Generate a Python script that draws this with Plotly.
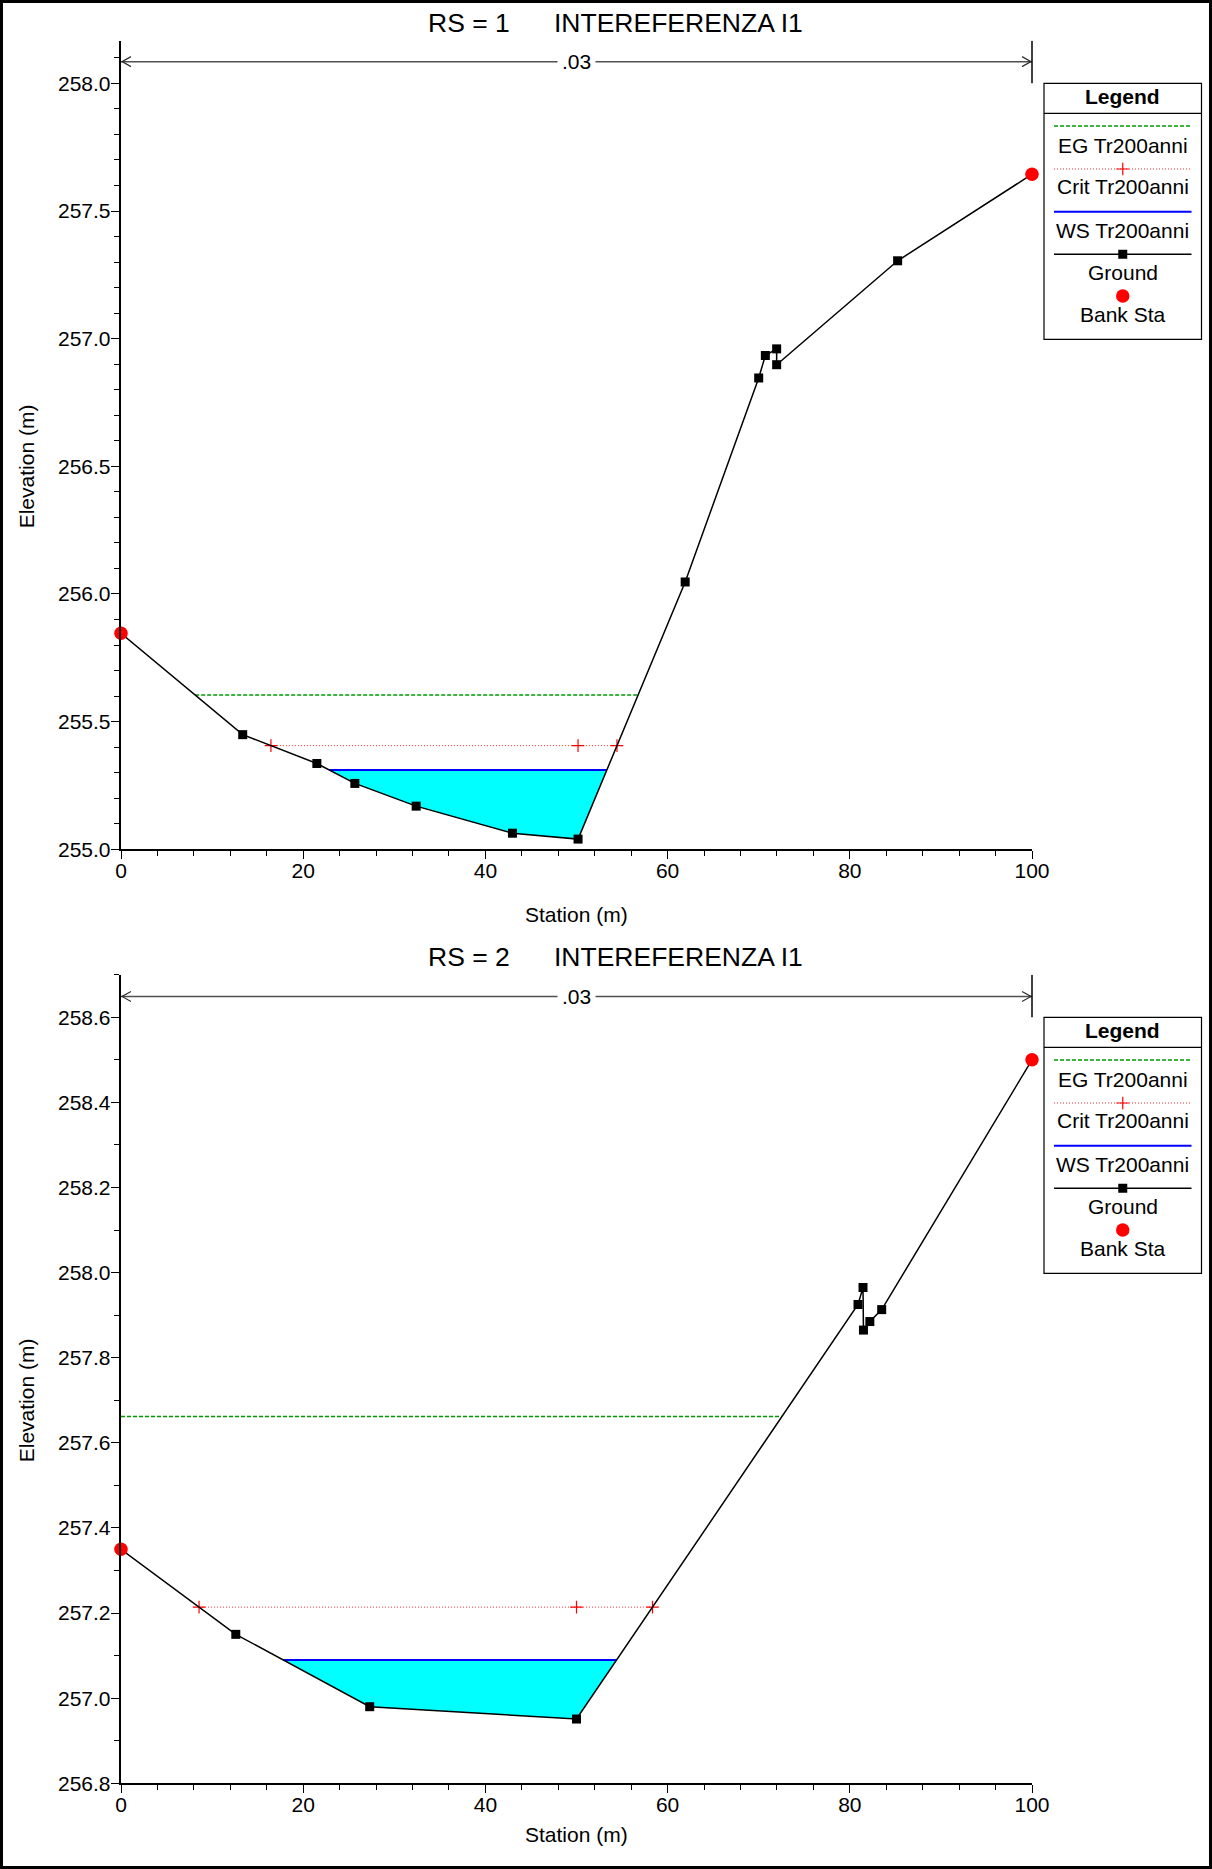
import numpy as np
import plotly.graph_objects as go

W, H = 1212, 1869
FONT = "Liberation Sans, Arial, sans-serif"

# ---------------- data ----------------
rs1_station = [0, 13.36, 21.5, 25.67, 32.4, 42.97, 50.17, 61.93, 70.0, 70.73, 71.97, 71.97, 85.25, 100]
rs1_elev = [255.846, 255.449, 255.336, 255.258, 255.169, 255.063, 255.040, 256.047,
            256.846, 256.934, 256.960, 256.898, 257.305, 257.644]
rs1_bank = [0, 100]
rs1_ws, rs1_eg, rs1_crit = 255.311, 255.604, 255.406

rs2_station = [0, 12.6, 27.3, 50.0, 80.9, 81.45, 81.5, 82.2, 83.5, 100]
rs2_elev = [257.35, 257.150, 256.980, 256.951, 257.925, 257.965, 257.865, 257.885, 257.913, 258.50]
rs2_bank = [0, 100]
rs2_ws, rs2_eg, rs2_crit = 257.090, 257.662, 257.214

mann_n = ".03"
titles = [("RS = 1", "INTEREFERENZA I1"), ("RS = 2", "INTEREFERENZA I1")]
legend_names = ["EG Tr200anni", "Crit Tr200anni", "WS Tr200anni", "Ground", "Bank Sta"]

yranges = [[255.0, 258.167], [256.8, 258.70]]
ydticks = [0.5, 0.2]
ytick_span = [(255.0, 258.0), (256.8, 258.6)]
arrow_elev = [258.085, 258.649]
bar_bottom = [258.0, 258.6]

# ---------------- helpers ----------------
def crossings(st, el, level):
    st = list(st); el = list(el)
    imin = int(np.argmin(el))
    left, li = st[0], 0
    for i in range(imin, 0, -1):
        if el[i - 1] >= level:
            f = (level - el[i]) / (el[i - 1] - el[i])
            left = st[i] + f * (st[i - 1] - st[i])
            li = i
            break
    right, ri = st[-1], len(st) - 1
    for i in range(imin, len(st) - 1):
        if el[i + 1] >= level:
            f = (level - el[i]) / (el[i + 1] - el[i])
            right = st[i] + f * (st[i + 1] - st[i])
            ri = i
            break
    return left, right, li, ri, st[imin]

fig = go.Figure()
shapes = []
annotations = []

px_x = lambda p: p / W
px_y = lambda p: 1 - p / H

charts = [(rs1_station, rs1_elev, rs1_bank, rs1_ws, rs1_eg, rs1_crit),
          (rs2_station, rs2_elev, rs2_bank, rs2_ws, rs2_eg, rs2_crit)]

X0, X1 = 121, 1032
for k, (st, el, bank, ws, eg, crit) in enumerate(charts):
    off = 934 * k
    xa = "x" if k == 0 else "x2"
    ya = "y" if k == 0 else "y2"
    # water fill
    l, r, li, ri, _ = crossings(st, el, ws)
    fx = [l] + st[li:ri + 1] + [r]
    fy = [ws] + el[li:ri + 1] + [ws]
    fig.add_trace(go.Scatter(x=fx, y=fy, fill="toself", fillcolor="#00ffff", mode="lines",
                             line=dict(width=0), xaxis=xa, yaxis=ya, hoverinfo="skip"))
    # EG
    l, r, _, _, _ = crossings(st, el, eg)
    fig.add_trace(go.Scatter(x=[l, r], y=[eg, eg], mode="lines",
                             line=dict(color="#009900", width=1.5, dash="4px,2px"), xaxis=xa, yaxis=ya))
    # Crit
    l, r, _, _, smin = crossings(st, el, crit)
    fig.add_trace(go.Scatter(x=[l, smin, r], y=[crit] * 3, mode="lines+markers",
                             line=dict(color="#ff3030", width=1, dash="1px,2px"),
                             marker=dict(symbol="cross-thin", size=9, line=dict(color="red", width=1.2)),
                             xaxis=xa, yaxis=ya))
    # WS
    l, r, _, _, _ = crossings(st, el, ws)
    fig.add_trace(go.Scatter(x=[l, r], y=[ws, ws], mode="lines",
                             line=dict(color="#0000ff", width=2), xaxis=xa, yaxis=ya))
    # Ground
    fig.add_trace(go.Scatter(x=st, y=el, mode="lines+markers", cliponaxis=False,
                             line=dict(color="black", width=1.5),
                             marker=dict(symbol="square", size=9, color="black"), xaxis=xa, yaxis=ya))
    # Bank stations
    bank_el = [float(np.interp(b, st, el)) if b not in st else el[st.index(b)] for b in bank]
    fig.add_trace(go.Scatter(x=bank, y=bank_el, mode="markers", cliponaxis=False,
                             marker=dict(symbol="circle", size=13.5, color="red"), xaxis=xa, yaxis=ya))

    # axes
    ydom = [px_y(849.3 + off), px_y(40.7 + off)]
    axx = dict(domain=[px_x(X0), px_x(X1)], range=[0, 100], anchor=ya, tickmode="linear", tick0=0, dtick=20,
               ticks="outside", ticklen=7.5, tickwidth=1.2, tickcolor="black", showline=True,
               linecolor="black", linewidth=1.5, showgrid=False, zeroline=False, automargin=False,
               ticklabelstandoff=-6,
               tickfont=dict(size=21, color="black", family=FONT),
               minor=dict(dtick=4, tick0=0, ticks="outside", ticklen=5, tickwidth=1, tickcolor="black", showgrid=False))
    axy = dict(domain=ydom, range=yranges[k], anchor=xa, tickmode="linear", tick0=yranges[k][0],
               dtick=ydticks[k], tickformat=".1f", automargin=False, ticklabelstandoff=-4,
               ticks="outside", ticklen=8.5, tickwidth=1.2, tickcolor="black", showline=True,
               linecolor="black", linewidth=1.5, showgrid=False, zeroline=False,
               tickfont=dict(size=21, color="black", family=FONT),
               minor=dict(dtick=0.1, tick0=yranges[k][0], ticks="outside", ticklen=5.3, tickwidth=1,
                          tickcolor="black", showgrid=False))
    if k == 0:
        fig.update_layout(xaxis=axx, yaxis=axy)
    else:
        fig.update_layout(xaxis2=axx, yaxis2=axy)

    # n-value arrow line
    ae = arrow_elev[k]
    shapes.append(dict(type="line", xref=xa, yref=ya, x0=0, x1=100, y0=ae, y1=ae,
                       line=dict(color="#505050", width=1.5)))
    shapes.append(dict(type="path", xref=xa, yref=ya, xsizemode="pixel", ysizemode="pixel",
                       xanchor=0, yanchor=ae, path="M 10,5 L 1,0 L 10,-5",
                       line=dict(color="#303030", width=1.2)))
    shapes.append(dict(type="path", xref=xa, yref=ya, xsizemode="pixel", ysizemode="pixel",
                       xanchor=100, yanchor=ae, path="M -10,5 L -1,0 L -10,-5",
                       line=dict(color="#303030", width=1.2)))
    annotations.append(dict(x=50, y=ae, xref=xa, yref=ya, text=mann_n, showarrow=False,
                            bgcolor="white", borderpad=4, font=dict(size=21, color="black", family=FONT)))
    # right vertical bar
    shapes.append(dict(type="line", xref="paper", yref=ya, x0=px_x(X1), x1=px_x(X1),
                       y0=bar_bottom[k], y1=yranges[k][1], line=dict(color="black", width=1.5)))

    # titles
    annotations.append(dict(x=px_x(426), y=px_y(23 + off), xref="paper", yref="paper", xanchor="left",
                            yanchor="middle", text=titles[k][0], showarrow=False,
                            font=dict(size=26.5, color="black", family=FONT)))
    annotations.append(dict(x=px_x(552), y=px_y(23 + off), xref="paper", yref="paper", xanchor="left",
                            yanchor="middle", text=titles[k][1], showarrow=False,
                            font=dict(size=26.5, color="black", family=FONT)))
    # axis titles
    annotations.append(dict(x=50, y=px_y(914 + off), xref=xa, yref="paper", text="Station (m)",
                            showarrow=False, font=dict(size=21, color="black", family=FONT)))
    annotations.append(dict(x=px_x(26), y=sum(ytick_span[k]) / 2, xref="paper", yref=ya, text="Elevation (m)",
                            xanchor="center", yanchor="middle",
                            textangle=-90, showarrow=False, font=dict(size=21, color="black", family=FONT)))

    # ---------- legend box (own pixel axes) ----------
    LX0, LX1, LY0, LY1 = 1044, 1201.5, 83.3 + off, 339.3 + off
    lw, lh = LX1 - LX0, LY1 - LY0
    lxa = "x3" if k == 0 else "x4"
    lya = "y3" if k == 0 else "y4"
    lax = dict(domain=[px_x(LX0), px_x(LX1)], range=[0, lw], visible=False, anchor=lya,
               fixedrange=True, automargin=False)
    lay = dict(domain=[px_y(LY1), px_y(LY0)], range=[lh, 0], visible=False, anchor=lxa,
               fixedrange=True, automargin=False)
    if k == 0:
        fig.update_layout(xaxis3=lax, yaxis3=lay)
    else:
        fig.update_layout(xaxis4=lax, yaxis4=lay)
    shapes.append(dict(type="rect", xref="paper", yref="paper", x0=px_x(LX0), x1=px_x(LX1),
                       y0=px_y(LY1), y1=px_y(LY0), line=dict(color="black", width=1.2)))
    shapes.append(dict(type="line", xref="paper", yref="paper", x0=px_x(LX0), x1=px_x(LX1),
                       y0=px_y(LY0 + 30), y1=px_y(LY0 + 30), line=dict(color="black", width=1.2)))
    annotations.append(dict(x=lw / 2, y=13.4, xref=lxa, yref=lya, text="<b>Legend</b>", showarrow=False,
                            font=dict(size=21, color="black", family=FONT)))
    cx = lw / 2
    ls = [10, lw - 10]
    fig.add_trace(go.Scatter(x=ls, y=[42.7, 42.7], mode="lines", xaxis=lxa, yaxis=lya,
                             line=dict(color="#009900", width=1.5, dash="4px,2px")))
    fig.add_trace(go.Scatter(x=ls, y=[85.7, 85.7], mode="lines", xaxis=lxa, yaxis=lya,
                             line=dict(color="#ff3030", width=1, dash="1px,2px")))
    fig.add_trace(go.Scatter(x=[cx], y=[85.7], mode="markers", xaxis=lxa, yaxis=lya,
                             marker=dict(symbol="cross-thin", size=9, line=dict(color="red", width=1.2))))
    fig.add_trace(go.Scatter(x=ls, y=[128.4, 128.4], mode="lines", xaxis=lxa, yaxis=lya,
                             line=dict(color="#0000ff", width=2)))
    fig.add_trace(go.Scatter(x=ls, y=[171, 171], mode="lines", xaxis=lxa, yaxis=lya,
                             line=dict(color="black", width=1.5)))
    fig.add_trace(go.Scatter(x=[cx], y=[171], mode="markers", xaxis=lxa, yaxis=lya,
                             marker=dict(symbol="square", size=9, color="black")))
    fig.add_trace(go.Scatter(x=[cx], y=[212.7], mode="markers", xaxis=lxa, yaxis=lya,
                             marker=dict(symbol="circle", size=13.5, color="red")))
    for name, ty in zip(legend_names, [61.7, 103.4, 146.7, 189.4, 231]):
        annotations.append(dict(x=cx, y=ty, xref=lxa, yref=lya, text=name, showarrow=False,
                                font=dict(size=21, color="black", family=FONT)))

# outer frame
shapes.append(dict(type="rect", xref="paper", yref="paper", x0=px_x(1.5), x1=px_x(W - 1.5),
                   y0=px_y(H - 1.5), y1=px_y(1.5), line=dict(color="black", width=3)))

fig.update_layout(width=W, height=H, margin=dict(l=0, r=0, t=0, b=0, autoexpand=False),
                  paper_bgcolor="white", plot_bgcolor="white", showlegend=False,
                  font=dict(family=FONT, size=21, color="black"),
                  shapes=shapes, annotations=annotations)

fig.write_html("out.html", config={"displayModeBar": False, "responsive": False},
               post_script="document.body.style.margin='0px';"
                           "document.body.style.overflow='hidden';"
                           "document.documentElement.style.overflow='hidden';")
